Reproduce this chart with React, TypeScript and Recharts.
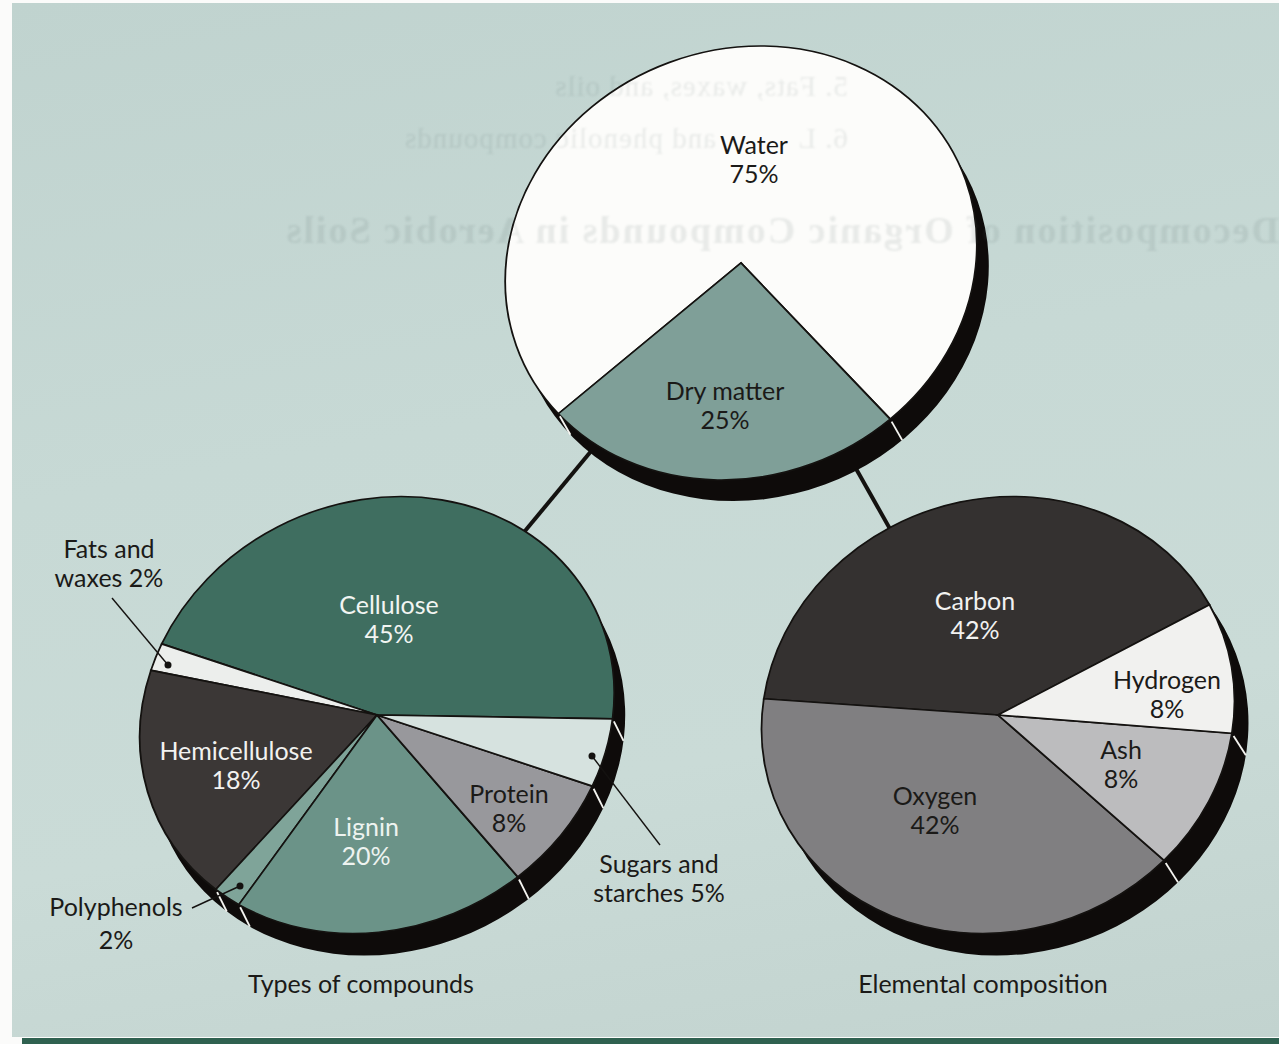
import { PieChart, Pie, Cell, Sector } from "recharts"

const topNames = ["Water", "Dry matter"]
const topValues = [75, 25]
const topColors = ["#fcfcfa", "#7f9f98"]

// anticlockwise from the 3 o'clock edge, the order the slices sit in the picture
const compoundNames = ["Cellulose", "Fats and waxes", "Hemicellulose", "Polyphenols", "Lignin", "Protein", "Sugars and starches"]
const compoundValues = [45, 2, 18, 2, 20, 8, 5]
const compoundColors = ["#3f6e60", "#eceeec", "#3b3736", "#7fa499", "#6b9388", "#98989c", "#d6e2df"]

// slice sizes as drawn in the picture, the printed labels say 42 / 42 / 8 / 8
const elementNames = ["Carbon", "Oxygen", "Ash", "Hydrogen"]
const elementValues = [40.4, 39.6, 10.25, 9.75]
const elementColors = ["#343130", "#807f81", "#bcbcbe", "#f1f1ef"]

// show-through from the printed page behind, mirrored (the middle of the second line sits behind "Water")
const ghostLines = ["5. Fats, waxes, and oils", "6. L", "and phenolic compounds"]
const ghostHeading = "Decomposition of Organic Compounds in Aerobic Soils"

const FONT = "Lato, 'Open Sans', sans-serif"
const RAD = Math.PI / 180

// slice plus the little white tick across the dark rim
const SliceWithTick = (props: any) => {
  const { cx, cy, outerRadius, startAngle, fill, rimX, rimY } = props
  const ux = Math.cos(startAngle * RAD)
  const uy = -Math.sin(startAngle * RAD)
  const x0 = cx + outerRadius * ux
  const y0 = cy + outerRadius * uy
  const showTick = ux * rimX + uy * rimY > 3
  return (
    <g>
      <Sector {...props} fill={fill} stroke="#141210" strokeWidth={1.8} />
      {showTick && (
        <line x1={x0 + rimX * 0.12} y1={y0 + rimY * 0.12} x2={x0 + rimX} y2={y0 + rimY} stroke="#f4f4f0" strokeWidth={1.8} />
      )}
    </g>
  )
}

interface DiscProps {
  name: string
  names: string[]
  values: number[]
  colors: string[]
  centerX: number
  centerY: number
  radiusX: number
  radiusY: number
  shear: number
  rimX: number
  rimY: number
  startAngle: number
}

// the printed pies are slanted ellipses, so the round chart gets squashed and sheared
const Disc = ({ name, names, values, colors, centerX, centerY, radiusX, radiusY, shear, rimX, rimY, startAngle }: DiscProps) => {
  const data = names.map((n, i) => ({ name: n, value: values[i] }))
  const size = radiusX * 2 + 80
  const squash = radiusY / radiusX
  const mid = size / 2
  const localRimX = rimX - shear * rimY
  const localRimY = rimY / squash
  return (
    <div
      style={{
        position: "absolute",
        left: centerX - mid,
        top: centerY - mid,
        width: size,
        height: size,
        transform: `matrix(1, 0, ${shear * squash}, ${squash}, 0, 0)`,
        transformOrigin: "center",
      }}
    >
      <PieChart width={size} height={size} margin={{ top: 0, right: 0, bottom: 0, left: 0 }}>
        <Pie
          data={[{ name: name + " rim", value: 1 }]}
          dataKey="value"
          cx={mid + localRimX}
          cy={mid + localRimY}
          outerRadius={radiusX}
          innerRadius={0}
          fill="#0e0b0a"
          stroke="none"
          isAnimationActive={false}
        />
        <Pie
          data={data}
          dataKey="value"
          nameKey="name"
          cx={mid}
          cy={mid}
          outerRadius={radiusX}
          innerRadius={0}
          startAngle={startAngle}
          endAngle={startAngle + 360}
          shape={(p: any) => <SliceWithTick {...p} rimX={localRimX} rimY={localRimY} />}
          isAnimationActive={false}
        >
          {data.map((d, i) => (
            <Cell key={d.name} fill={colors[i]} />
          ))}
        </Pie>
      </PieChart>
    </div>
  )
}

const Label = ({ x, y, color = "#1b1a18", size = 25, children }: any) => (
  <div
    style={{
      position: "absolute",
      left: x - 150,
      top: y,
      width: 300,
      textAlign: "center",
      color,
      fontFamily: FONT,
      fontSize: size,
      lineHeight: "29px",
      whiteSpace: "pre",
    }}
  >
    {children}
  </div>
)

const Ghost = ({ right, y, size, weight = 400, spacing = 1, children }: any) => (
  <div
    style={{
      position: "absolute",
      left: right,
      top: y,
      transform: "scaleX(-1)",
      transformOrigin: "left",
      color: "rgba(70, 95, 90, 0.11)",
      filter: "blur(1px)",
      fontFamily: "'Liberation Serif', serif",
      fontSize: size,
      fontWeight: weight,
      letterSpacing: spacing,
      whiteSpace: "pre",
    }}
  >
    {children}
  </div>
)

export default function App() {
  return (
    <div style={{ position: "absolute", left: 0, top: 0, width: 1279, height: 1044, overflow: "hidden", background: "#fbfbfa" }}>
      <div
        style={{
          position: "absolute",
          left: 12,
          top: 3,
          width: 1267,
          height: 1034,
          background: "linear-gradient(170deg, #c0d3cf 0%, #c7d9d5 40%, #cadbd7 70%, #c2d3cf 100%)",
        }}
      />
      <div style={{ position: "absolute", left: 22, top: 1038, width: 1257, height: 6, background: "#2f6150" }} />

      <svg width={1279} height={1044} style={{ position: "absolute", left: 0, top: 0 }}>
        <line x1={597} y1={444} x2={520} y2={537} stroke="#141210" strokeWidth={4} />
        <line x1={850} y1={458} x2={894} y2={536} stroke="#141210" strokeWidth={4} />
      </svg>

      <Disc name="Fresh tissue" names={topNames} values={topValues} colors={topColors} centerX={741} centerY={263} radiusX={235} radiusY={217} shear={-0.09} rimX={12} rimY={21} startAngle={-46} />
      <Disc name="Compounds" names={compoundNames} values={compoundValues} colors={compoundColors} centerX={377} centerY={715} radiusX={236} radiusY={218.5} shear={-0.11} rimX={11} rimY={22} startAngle={-1} />
      <Disc name="Elements" names={elementNames} values={elementValues} colors={elementColors} centerX={998} centerY={715} radiusX={236} radiusY={218.5} shear={-0.07} rimX={14} rimY={22} startAngle={30.3} />

      <Ghost right={848} y={70} size={29}>{ghostLines[0]}</Ghost>
      <Ghost right={848} y={122} size={29}>{ghostLines[1]}</Ghost>
      <Ghost right={716} y={122} size={29}>{ghostLines[2]}</Ghost>
      <Ghost right={1279} y={208} size={38} weight={700} spacing={2}>{ghostHeading}</Ghost>

      <svg width={1279} height={1044} style={{ position: "absolute", left: 0, top: 0 }}>
        <line x1={112} y1={598} x2={168} y2={665} stroke="#141210" strokeWidth={1.4} />
        <circle cx={168} cy={665} r={3.5} fill="#141210" />
        <line x1={592} y1={756} x2={660} y2={845} stroke="#141210" strokeWidth={1.4} />
        <circle cx={592} cy={756} r={3.5} fill="#141210" />
        <line x1={192} y1={908} x2={240} y2={886} stroke="#141210" strokeWidth={1.4} />
        <circle cx={240} cy={886} r={3.5} fill="#141210" />
      </svg>

      <Label x={754} y={130}>{"Water\n75%"}</Label>
      <Label x={725} y={376}>{"Dry matter\n25%"}</Label>
      <Label x={389} y={590} color="#f2f5f2">{"Cellulose\n45%"}</Label>
      <Label x={236} y={736} color="#f2f2f0">{"Hemicellulose\n18%"}</Label>
      <Label x={366} y={812} color="#eef3f0">{"Lignin\n20%"}</Label>
      <Label x={509} y={779}>{"Protein\n8%"}</Label>
      <Label x={975} y={586} color="#f2f2f0">{"Carbon\n42%"}</Label>
      <Label x={1167} y={665}>{"Hydrogen\n8%"}</Label>
      <Label x={1121} y={735}>{"Ash\n8%"}</Label>
      <Label x={935} y={781}>{"Oxygen\n42%"}</Label>
      <Label x={109} y={534}>{"Fats and\nwaxes 2%"}</Label>
      <Label x={659} y={849}>{"Sugars and\nstarches 5%"}</Label>
      <Label x={116} y={892}>{"Polyphenols"}</Label>
      <Label x={116} y={925}>{"2%"}</Label>
      <Label x={361} y={969}>{"Types of compounds"}</Label>
      <Label x={983} y={969}>{"Elemental composition"}</Label>
    </div>
  )
}
